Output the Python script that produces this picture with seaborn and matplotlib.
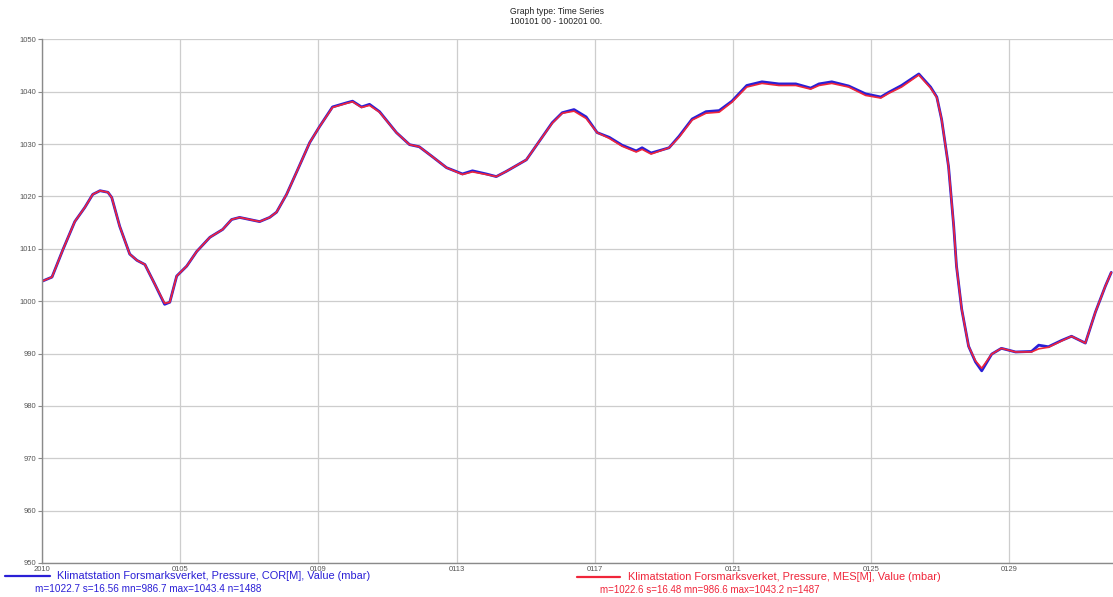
import matplotlib
matplotlib.use("Agg")
import matplotlib.pyplot as plt
import seaborn as sns
import pandas as pd

# Days since 2010-01-01 00:00
days = [0.00, 0.29, 0.61, 0.95, 1.24, 1.47, 1.68, 1.91, 2.02, 2.25,
        2.54, 2.75, 2.98, 3.27, 3.55, 3.70, 3.90, 4.19, 4.48, 4.86,
        5.23, 5.49, 5.72, 6.01, 6.30, 6.59, 6.79, 7.08, 7.40, 7.75,
        8.03, 8.41, 8.82, 8.99, 9.25, 9.48, 9.77, 10.26, 10.64, 10.92,
        11.30, 11.71, 12.17, 12.46, 12.86, 13.15, 13.44, 14.02, 14.39, 14.77,
        15.06, 15.40, 15.75, 16.07, 16.42, 16.79, 17.20, 17.37, 17.63, 18.15,
        18.44, 18.82, 19.22, 19.60, 19.97, 20.40, 20.84, 21.33, 21.82, 22.25,
        22.49, 22.86, 23.35, 23.84, 24.28, 24.51, 24.88, 25.38, 25.72, 25.90,
        26.04, 26.24, 26.39, 26.47, 26.62, 26.82, 27.02, 27.20, 27.49, 27.77,
        28.18, 28.64, 28.85, 29.13, 29.51, 29.80, 30.20, 30.49, 30.78, 30.95]

# Pressure, corrected series (mbar)
pressure_cor = [1003.8, 1004.6, 1009.9, 1015.2, 1017.9, 1020.4, 1021.1, 1020.8, 1019.8, 1014.3,
                1009.0, 1007.8, 1007.0, 1003.2, 999.4, 999.8, 1004.8, 1006.7, 1009.5, 1012.2,
                1013.7, 1015.6, 1016.0, 1015.6, 1015.2, 1016.0, 1017.0, 1020.4, 1025.1, 1030.3,
                1033.3, 1037.1, 1037.9, 1038.2, 1037.1, 1037.6, 1036.2, 1032.2, 1029.9, 1029.5,
                1027.6, 1025.5, 1024.3, 1024.9, 1024.3, 1023.8, 1024.8, 1027.0, 1030.5, 1034.1,
                1036.0, 1036.6, 1035.2, 1032.2, 1031.3, 1029.8, 1028.7, 1029.3, 1028.3, 1029.3,
                1031.5, 1034.8, 1036.2, 1036.4, 1038.2, 1041.2, 1041.9, 1041.5, 1041.5, 1040.7,
                1041.5, 1041.9, 1041.1, 1039.6, 1039.0, 1039.9, 1041.2, 1043.4, 1040.9, 1039.0,
                1034.7, 1025.7, 1014.3, 1006.7, 998.5, 991.4, 988.4, 986.7, 989.9, 991.0,
                990.3, 990.4, 991.6, 991.3, 992.5, 993.3, 992.0, 997.9, 1002.9, 1005.5]

# Pressure, measured series (mbar)
pressure_mes = [1003.8, 1004.6, 1009.9, 1015.2, 1017.9, 1020.4, 1021.1, 1020.8, 1019.8, 1014.3,
                1009.0, 1007.8, 1007.0, 1003.2, 999.6, 999.8, 1004.8, 1006.7, 1009.5, 1012.2,
                1013.7, 1015.6, 1016.0, 1015.6, 1015.2, 1016.0, 1017.0, 1020.4, 1025.1, 1030.3,
                1033.3, 1037.0, 1037.8, 1038.1, 1037.0, 1037.4, 1036.1, 1032.2, 1029.9, 1029.5,
                1027.6, 1025.5, 1024.2, 1024.7, 1024.2, 1023.8, 1024.8, 1027.0, 1030.5, 1034.0,
                1035.9, 1036.3, 1034.9, 1032.2, 1031.1, 1029.6, 1028.5, 1029.0, 1028.1, 1029.3,
                1031.3, 1034.6, 1035.9, 1036.1, 1038.0, 1040.9, 1041.6, 1041.2, 1041.2, 1040.5,
                1041.2, 1041.6, 1040.9, 1039.3, 1038.8, 1039.7, 1040.9, 1043.2, 1040.7, 1038.9,
                1034.7, 1025.7, 1014.3, 1006.7, 998.5, 991.4, 988.6, 987.2, 989.9, 991.0,
                990.3, 990.3, 990.9, 991.2, 992.4, 993.3, 992.0, 997.9, 1002.9, 1005.5]

x_ticks = [0, 4, 8, 12, 16, 20, 24, 28]
x_tick_labels = ["2010", "0105", "0109", "0113", "0117", "0121", "0125", "0129"]
y_ticks = [950, 960, 970, 980, 990, 1000, 1010, 1020, 1030, 1040, 1050]

legend_cor = "Klimatstation Forsmarksverket, Pressure, COR[M], Value (mbar)"
stats_cor = "m=1022.7 s=16.56 mn=986.7 max=1043.4 n=1488"
legend_mes = "Klimatstation Forsmarksverket, Pressure, MES[M], Value (mbar)"
stats_mes = "m=1022.6 s=16.48 mn=986.6 max=1043.2 n=1487"

sns.set_style("white")
plt.rcParams["font.family"] = ["Liberation Sans", "DejaVu Sans"]

blue = "#2a1fd6"
red = "#f0253a"

df_cor = pd.DataFrame({"day": days, "pressure": pressure_cor})
df_mes = pd.DataFrame({"day": days, "pressure": pressure_mes})

fig = plt.figure(figsize=(11.13, 5.97), dpi=100)
ax = fig.add_axes([0.0377, 0.057, 0.9623, 0.877])

sns.lineplot(data=df_cor, x="day", y="pressure", ax=ax, color=blue, linewidth=2.0)
sns.lineplot(data=df_mes, x="day", y="pressure", ax=ax, color=red, linewidth=1.2)

ax.set_xlim(0, 31)
ax.set_ylim(950, 1050)
ax.set_xticks(x_ticks)
ax.set_xticklabels(x_tick_labels)
ax.set_yticks(y_ticks)
ax.set_yticklabels([str(v) for v in y_ticks])
ax.set_xlabel("")
ax.set_ylabel("")

ax.grid(True, color="#cdcdcd", linewidth=0.9)
ax.set_axisbelow(True)
for side in ("top", "right"):
    ax.spines[side].set_visible(False)
for side in ("left", "bottom"):
    ax.spines[side].set_color("#8a8a8a")
    ax.spines[side].set_linewidth(1.0)

ax.tick_params(axis="y", which="both", left=True, length=3, width=0.8, color="#8a8a8a",
               labelsize=5.5, labelcolor="#555555", pad=1)
ax.tick_params(axis="x", which="both", bottom=False, length=0,
               labelsize=5.5, labelcolor="#555555", pad=2)

fig.text(0.5, 0.988, "Graph type: Time Series", ha="center", va="top", fontsize=6.2, color="#222222")
fig.text(0.5, 0.971, "100101 00 - 100201 00.", ha="center", va="top", fontsize=6.2, color="#222222")

# Legend block beneath the axes
fig.add_artist(plt.Line2D([5 / 1113, 50 / 1113], [1 - 576 / 597, 1 - 576 / 597], color=blue, linewidth=1.6))
fig.text(57 / 1113, 1 - 576 / 597, legend_cor, ha="left", va="center", fontsize=7.9, color=blue)
fig.text(35 / 1113, 1 - 589 / 597, stats_cor, ha="left", va="center", fontsize=7.2, color=blue)

fig.add_artist(plt.Line2D([577 / 1113, 620 / 1113], [1 - 577 / 597, 1 - 577 / 597], color=red, linewidth=1.6))
fig.text(628 / 1113, 1 - 577 / 597, legend_mes, ha="left", va="center", fontsize=7.9, color=red)
fig.text(600 / 1113, 1 - 590 / 597, stats_mes, ha="left", va="center", fontsize=7.0, color=red)

fig.savefig("out.png", dpi=100)
